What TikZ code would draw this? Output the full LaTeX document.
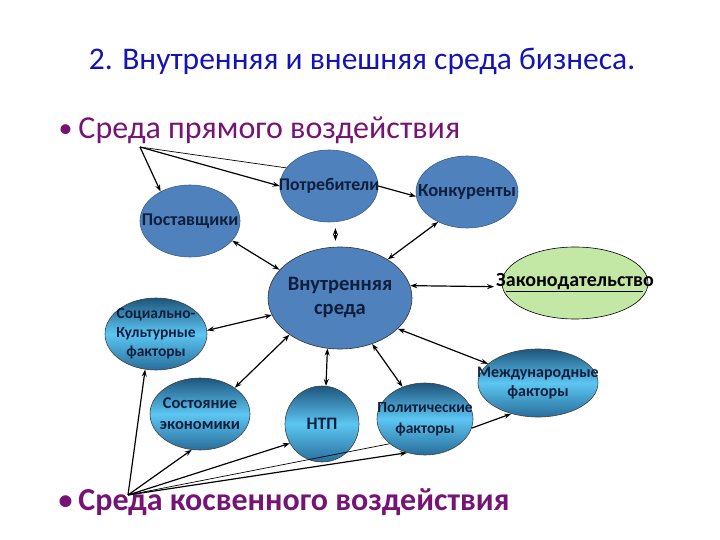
\documentclass[tikz,border=0pt]{standalone}
\usepackage{fontspec}
\setmainfont{Carlito}
\usetikzlibrary{arrows.meta,shapes.geometric}
\definecolor{ttlblue}{RGB}{20,20,180}
\definecolor{hdpurple}{RGB}{118,20,118}
\definecolor{offblue}{RGB}{79,129,189}
\definecolor{offline}{RGB}{56,93,138}
\definecolor{lawgreen}{RGB}{195,232,165}
\definecolor{gradtop}{RGB}{30,85,125}
\definecolor{gradmid}{RGB}{92,198,242}
\definecolor{gradbot}{RGB}{40,110,155}
\definecolor{nodetxt}{RGB}{15,30,60}
\newcommand{\hdbullet}{\raisebox{1pt}{\fontsize{28}{28}\selectfont•}}

\begin{document}
\begin{tikzpicture}[
  x=1pt,y=-1pt,
  blob/.style={ellipse,fill=offblue,draw=offline,line width=0.6pt,inner sep=0pt},
  grad/.style={ellipse,draw=black!75,line width=0.6pt,inner sep=0pt,
               top color=gradtop,bottom color=gradbot,middle color=gradmid},
  lawbox/.style={ellipse,fill=lawgreen,draw=black,line width=0.6pt,inner sep=0pt},
  txt/.style={font=\fontsize{16}{19}\selectfont\bfseries,text=nodetxt,align=center},
  bigtxt/.style={font=\fontsize{20.5}{24}\selectfont\bfseries,text=nodetxt,align=center},
  dbl/.style={{Stealth[length=7pt,width=5pt]}-{Stealth[length=7pt,width=5pt]},line width=1.2pt},
  one/.style={-{Stealth[length=7pt,width=5pt]},line width=1.2pt},
  thin/.style={line width=0.7pt},
]
  \useasboundingbox (0,0) rectangle (720,540);

  % Headings
  \node[anchor=base,font=\fontsize{31.5}{36}\selectfont,text=ttlblue] (title) at (362,70)
    {2. Внутренняя и внешняя среда бизнеса.};
  \node[anchor=base west,font=\fontsize{32}{36}\selectfont,text=hdpurple] (direct) at (55,139)
    {\hdbullet\hspace{6pt}Среда прямого воздействия};
  \node[anchor=base west,font=\fontsize{32}{36}\selectfont\bfseries,text=hdpurple] (indirect) at (55,510)
    {\hdbullet\hspace{6pt}Среда косвенного воздействия};
  \coordinate (dirpt) at (140,147);
  \coordinate (indpt) at (128,495);

  % Direct environment
  \node[blob,minimum width=100pt,minimum height=72pt,
        label={[txt,font=\fontsize{18}{21}\selectfont\bfseries]center:Поставщики}] (post) at (190,221) {};
  \node[blob,minimum width=98pt,minimum height=72pt,
        label={[txt,font=\fontsize{17.8}{21}\selectfont\bfseries]center:Потребители}] (potr) at (329,186) {};
  \node[blob,minimum width=102pt,minimum height=72pt,
        label={[txt,font=\fontsize{18.5}{21}\selectfont\bfseries]center:Конкуренты}] (konk) at (467,192) {};
  \node[blob,draw=black!80,minimum width=144pt,minimum height=102pt,
        label={[bigtxt]center:Внутренняя\\среда}] (vnutr) at (340,298) {};
  \node[lawbox,minimum width=146pt,minimum height=72pt,
        label={[txt,font=\fontsize{20}{23}\selectfont\bfseries,text=black]center:З\underline{аконодательств}о}] (zakon) at (575,283) {};

  % Indirect environment
  \node[grad,minimum width=102pt,minimum height=72pt,
        label={[txt,font=\fontsize{15.5}{19}\selectfont\bfseries]center:Социально-\\Культурные\\факторы}] (soc) at (156,334) {};
  \node[grad,minimum width=100pt,minimum height=72pt,
        label={[txt,font=\fontsize{16.5}{21}\selectfont\bfseries]center:Состояние\\экономики}] (sost) at (200,414) {};
  \node[grad,minimum width=74pt,minimum height=76pt,
        label={[txt,font=\fontsize{17.5}{21}\selectfont\bfseries]center:НТП}] (ntp) at (322,424) {};
  \node[grad,minimum width=96pt,minimum height=72pt,
        label={[txt,font=\fontsize{15.5}{21}\selectfont\bfseries]center:Политические\\факторы}] (polit) at (425,419) {};
  \node[grad,minimum width=120pt,minimum height=68pt,
        label={[txt]center:Международные\\факторы}] (mezhd) at (538,383) {};

  % From the upper heading
  \draw[one] (dirpt) -- (post.135);
  \draw[one] (dirpt) -- (potr.180);
  \draw[thin] (dirpt) -- (potr.157);
  \draw[one] (potr.east) -- (konk.185);

  % Around the inner environment
  \draw[dbl,shorten <=6pt,shorten >=6pt] (potr.-80) -- (vnutr.95);
  \draw[dbl] (konk.226) -- (vnutr.39);
  \draw[dbl] (post.-25) -- (vnutr.155);
  \draw[dbl,shorten >=8pt] (vnutr.10) -- (zakon.183);
  \draw[dbl] (vnutr.194) -- (soc.4);
  \draw[dbl] (vnutr.216) -- (sost.37);
  \draw[dbl] (vnutr.256) -- (ntp.84);
  \draw[dbl] (vnutr.-55) -- (polit.125);
  \draw[dbl] (vnutr.-28) -- (mezhd.159);
  \draw[one] (polit.-11) -- (mezhd.229);

  % From the lower heading
  \draw[one] (indpt) -- (soc.253);
  \draw[one] (indpt) -- (sost.257);
  \draw[one] (indpt) -- (ntp.211);
  \draw[thin] (indpt) -- (polit.215);
  \draw[one] (indpt) -- (polit.242);
\end{tikzpicture}
\end{document}
